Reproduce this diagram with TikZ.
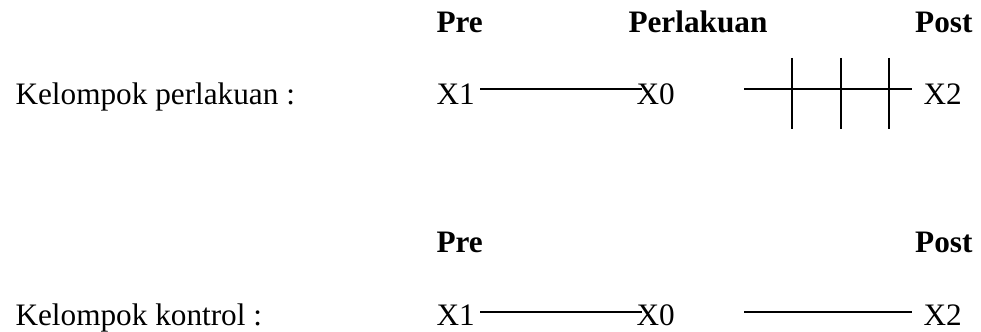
\documentclass[tikz,border=0pt]{standalone}
\usepackage{fontspec}
\setmainfont{Liberation Serif}
\begin{document}
\begin{tikzpicture}[x=0.4pt,y=-0.4pt,
  txt/.style={inner sep=0pt,anchor=base west,font=\fontsize{12.5}{14}\selectfont},
  hdr/.style={txt,font=\fontsize{12.5}{14}\selectfont\bfseries},
  ln/.style={line width=1pt},
  tick/.style={line width=0.9pt}]
\useasboundingbox (0,0) rectangle (981,332);
% row 1
\node[hdr] (pre1) at (436,33) {Pre};
\node[hdr] (perl) at (628,33) {Perlakuan};
\node[hdr,anchor=base east] (post1) at (973,33) {Post};
\node[txt] (lab1) at (15,105) {Kelompok perlakuan :};
\node[txt] (x11) at (436,105) {X1};
\node[txt] (x01) at (636,105) {X0};
\node[txt] (x21) at (923,105) {X2};
\coordinate (a1) at (480,89);
\coordinate (b1) at (642,89);
\coordinate (c1) at (744,89);
\coordinate (d1) at (912,89);
\draw[ln] (a1) -- (b1);
\draw[ln] (c1) -- (d1);
\foreach \i/\xx in {1/792,2/841,3/889}{
  \coordinate (t\i a) at (\xx,58);
  \coordinate (t\i b) at (\xx,129);
  \draw[tick] (t\i a) -- (t\i b);
}
% row 2
\node[hdr] (pre2) at (436,253) {Pre};
\node[hdr,anchor=base east] (post2) at (973,253) {Post};
\node[txt] (lab2) at (15,326) {Kelompok kontrol :};
\node[txt] (x12) at (436,326) {X1};
\node[txt] (x02) at (636,326) {X0};
\node[txt] (x22) at (923,326) {X2};
\coordinate (a2) at (480,312);
\coordinate (b2) at (642,312);
\coordinate (c2) at (744,312);
\coordinate (d2) at (912,312);
\draw[ln] (a2) -- (b2);
\draw[ln] (c2) -- (d2);
\end{tikzpicture}
\end{document}
